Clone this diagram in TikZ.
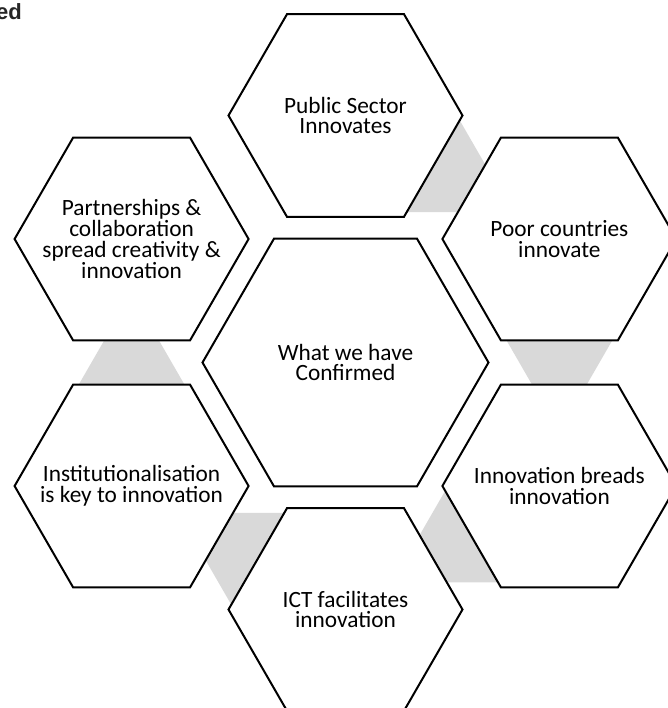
\documentclass[tikz,border=0pt]{standalone}
\usepackage{fontspec}
\setmainfont{Carlito}
\newfontfamily\headfont{Liberation Sans}
\usetikzlibrary{shapes.geometric}
\newcommand{\hexdist}{247}
\newcommand{\hexsize}{175.5pt}
\definecolor{HXgrau}{HTML}{D9D9D9}
\newcommand{\greylink}[1]{%
  \fill[HXgrau, rotate=#1]
  (213.9,-69.5) -- ++(120:150) -- ++(0:150) -- cycle;}
\tikzset{
  hexa/.style={draw, line width=1.5pt, fill=white,
    regular polygon, regular polygon sides=6,
    inner sep=0pt, minimum size=\hexsize},
  hextext/.style={align=center, inner sep=0pt,
    font=\fontsize{17.5}{15.6}\selectfont}
}
\begin{document}
\begin{tikzpicture}[x=0.75pt, y=0.75pt]

  % page, cut like the original
  \useasboundingbox (-345.5,-345.5) rectangle (322.5,362.5);
  \clip (-345.5,-345.5) rectangle (322.5,362.5);

  % grey links between the outer hexagons
  \foreach \angle in {60,0,-60,-120,-180}
  {
    \greylink{\angle}
  }

  % the hexagons
  \node[hexa, minimum size=214.5pt] (conf) at (0,0) {};
  \node[hexa] (pub) at (90:\hexdist) {};
  \node[hexa] (poor) at (30:\hexdist) {};
  \node[hexa] (bread) at (-30:\hexdist) {};
  \node[hexa] (ict) at (-90:\hexdist) {};
  \node[hexa] (inst) at (210:\hexdist) {};
  \node[hexa] (part) at (150:\hexdist) {};

  % their texts
  \node[hextext] (conf-t) at (conf) {What we have\\Confirmed};
  \node[hextext] (pub-t) at (pub) {Public Sector\\Innovates};
  \node[hextext] (poor-t) at (poor) {Poor countries\\innovate};
  \node[hextext] (bread-t) at (bread) {Innovation breads\\innovation};
  \node[hextext] (ict-t) at (ict) {ICT facilitates\\innovation};
  \node[hextext] (inst-t) at (inst) {Institutionalisation\\is key to innovation};
  \node[hextext] (part-t) at (part) {Partnerships \&\\collaboration\\spread creativity \&\\innovation};

  % title, cut off at the left
  \node[anchor=base east, inner sep=0pt, text=black!85,
    font=\headfont\bfseries\fontsize{16.5}{18}\selectfont] (title) at (-323.5,343.5) {ed};

\end{tikzpicture}
\end{document}
